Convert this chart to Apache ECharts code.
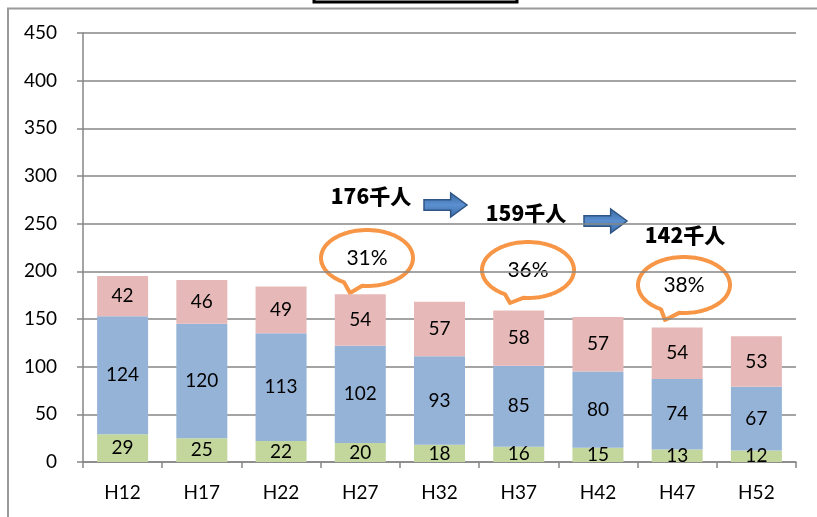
<!DOCTYPE html>
<html>
<head>
<meta charset="utf-8">
<script src="https://cdn.jsdelivr.net/npm/echarts@6/dist/echarts.min.js"></script>
<style>
  html, body { margin: 0; padding: 0; background: #fff; }
  #chart { width: 817px; height: 517px; }
</style>
</head>
<body>
<div id="chart"></div>
<script>
// categories and stacked values
var years = ['H12', 'H17', 'H22', 'H27', 'H32', 'H37', 'H42', 'H47', 'H52'];
var youngVals = [29, 25, 22, 20, 18, 16, 15, 13, 12];
var workVals = [124, 120, 113, 102, 93, 85, 80, 74, 67];
var elderVals = [42, 46, 49, 54, 57, 58, 57, 54, 53];
var totalNotes = ['176千人', '159千人', '142千人'];
var rateNotes = ['31%', '36%', '38%'];

var labelFont = 'Lato, "Open Sans", sans-serif';

// speech bubble outline: ellipse with a tail down to the tip, as polygon points
function bubblePoints(cx, cy, rx, ry, a1, a2, tx, ty) {
  var pts = [];
  // walk from a1 backwards round the ellipse to a2 (the long way)
  for (var a = a1; a >= a2 - 360; a -= 4) {
    var r = a * Math.PI / 180;
    pts.push([cx + rx * Math.cos(r), cy + ry * Math.sin(r)]);
  }
  var r2 = a2 * Math.PI / 180;
  pts.push([cx + rx * Math.cos(r2), cy + ry * Math.sin(r2)]);
  pts.push([tx, ty]);
  return pts;
}

function bubble(cx, cy, tx, ty, txt) {
  return {
    type: 'group',
    children: [
      {
        type: 'polygon',
        shape: { points: bubblePoints(cx, cy, 46, 28, 96, 120, tx, ty) },
        style: { fill: '#fff', stroke: '#f79646', lineWidth: 4, lineJoin: 'round' }
      },
      {
        type: 'text', x: cx, y: cy,
        style: { text: txt, fill: '#000', font: '21px ' + labelFont, align: 'center', verticalAlign: 'middle' }
      }
    ]
  };
}

function blockArrow(x, y, w, h) {
  return {
    type: 'polygon',
    shape: {
      points: [
        [x, y + h * 0.28], [x + w * 0.62, y + h * 0.28], [x + w * 0.62, y],
        [x + w, y + h / 2], [x + w * 0.62, y + h], [x + w * 0.62, y + h * 0.72], [x, y + h * 0.72]
      ]
    },
    style: {
      fill: new echarts.graphic.LinearGradient(0, 0, 0, 1, [
        { offset: 0, color: '#3a6aa6' }, { offset: 0.5, color: '#5b8fcf' }, { offset: 1, color: '#3a6aa6' }
      ]),
      stroke: '#2f5584', lineWidth: 1.5
    }
  };
}

function note(x, y, txt) {
  return {
    type: 'text', x: x, y: y,
    style: {
      text: txt, fill: '#000', align: 'center', verticalAlign: 'middle',
      font: '900 21px "Noto Sans CJK JP", sans-serif'
    }
  };
}

var segLabel = {
  show: true,
  position: 'inside',
  color: '#000',
  fontSize: 19,
  fontFamily: labelFont
};

var chart = echarts.init(document.getElementById('chart'));
chart.setOption({
  animation: false,
  backgroundColor: '#fff',
  grid: { left: 83, right: 21, top: 33, bottom: 55 },
  xAxis: {
    type: 'category',
    data: years,
    axisLine: { lineStyle: { color: '#868686', width: 1.5 } },
    axisTick: { show: true, length: 6, lineStyle: { color: '#868686', width: 1.5 } },
    axisLabel: { color: '#000', fontSize: 19, fontFamily: labelFont, margin: 21 }
  },
  yAxis: {
    type: 'value',
    min: 0, max: 450, interval: 50,
    axisLine: { show: true, lineStyle: { color: '#868686', width: 1.5 } },
    axisTick: { show: true, length: 6, lineStyle: { color: '#868686', width: 1.5 } },
    axisLabel: { color: '#000', fontSize: 19, fontFamily: labelFont, margin: 26 },
    splitLine: { lineStyle: { color: '#868686', width: 1.5 } }
  },
  series: [
    { name: 'young', type: 'bar', stack: 'p', barWidth: 51, data: youngVals,
      itemStyle: { color: '#c3d69b' }, label: segLabel },
    { name: 'work', type: 'bar', stack: 'p', barWidth: 51, data: workVals,
      itemStyle: { color: '#95b3d7' }, label: segLabel },
    { name: 'elder', type: 'bar', stack: 'p', barWidth: 51, data: elderVals,
      itemStyle: { color: '#e6b9b8' }, label: segLabel }
  ],
  graphic: [
    // outer frame and clipped title box
    { type: 'polyline', shape: { points: [[8, 517], [8, 8.5], [817, 8.5]] },
      style: { stroke: '#9a9a9a', lineWidth: 2, fill: null } },
    { type: 'rect', shape: { x: 314, y: -10, width: 203, height: 12 },
      style: { fill: '#fff', stroke: '#000', lineWidth: 3 } },
    note(371, 196, totalNotes[0]),
    note(526, 213, totalNotes[1]),
    note(685, 235, totalNotes[2]),
    blockArrow(424, 193, 43, 24),
    blockArrow(584, 209, 43, 24),
    bubble(367, 258, 350, 293, rateNotes[0]),
    bubble(528, 270, 510, 303, rateNotes[1]),
    bubble(684, 285, 665, 320, rateNotes[2])
  ]
});
</script>
</body>
</html>
